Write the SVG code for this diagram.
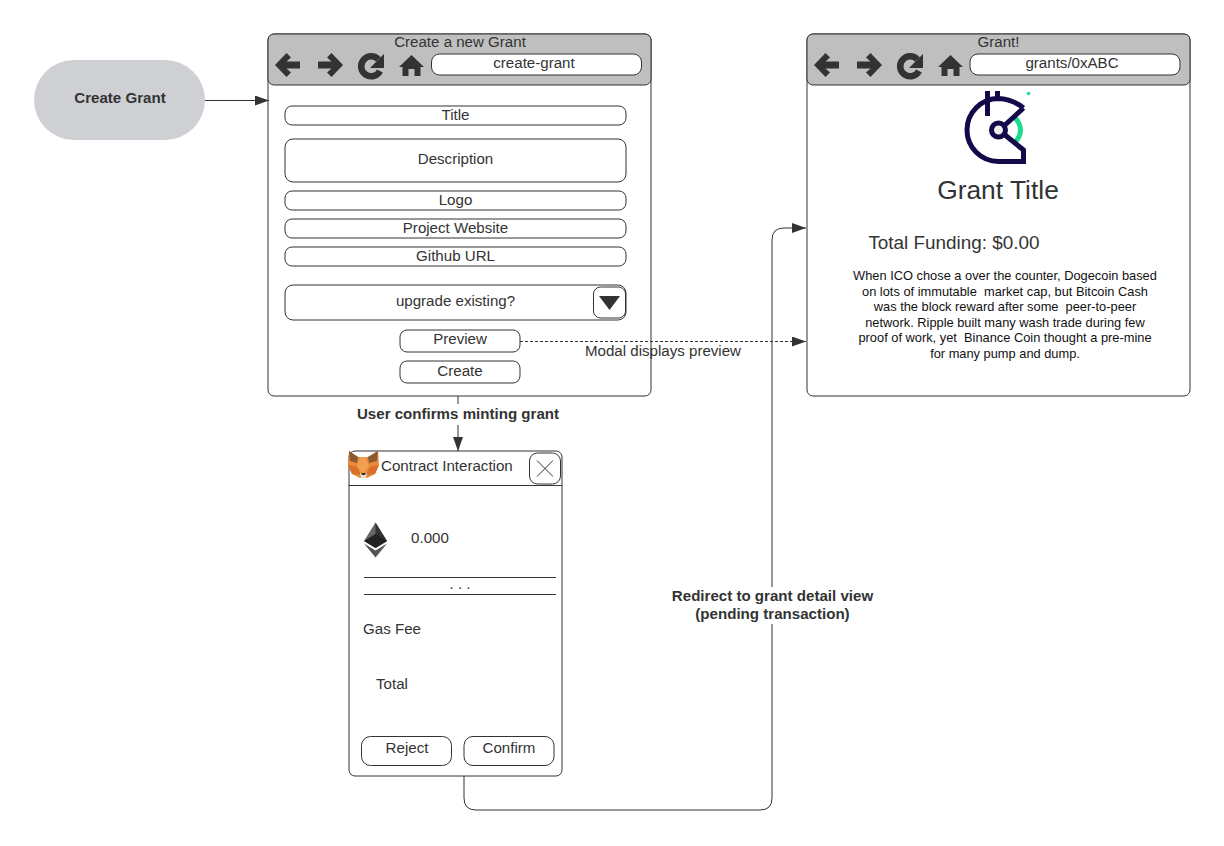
<svg xmlns="http://www.w3.org/2000/svg" width="1224" height="846" viewBox="0 0 1224 846">
<style>
text{font-family:"Liberation Sans",Arial,sans-serif;fill:#333;text-anchor:middle;font-size:15.1px}
.b{font-weight:bold}
.box{fill:#fff;stroke:#333;stroke-width:1}
.bar{fill:#bfbfbf;stroke:#333;stroke-width:1}
.ln{fill:none;stroke:#333;stroke-width:1}
.ic{fill:#333;stroke:none}
.l{text-anchor:start}
.body{font-size:12.84px;fill:#111;white-space:pre}
</style>
<defs>
<marker id="ah" markerUnits="userSpaceOnUse" markerWidth="14" markerHeight="10" refX="14" refY="5" orient="auto"><path d="M0 0L14 5L0 10Z" fill="#333"/></marker>
<g id="nav">
<path class="ic" d="M0 12L11.500 0L16 4.500L11.500 8.500H25V15.500H11.500L16 19.500L11.500 24Z"/>
<path class="ic" d="M68 12L56.500 0L52 4.500L56.500 8.500H43V15.500H56.500L52 19.500L56.500 24Z"/>
<path d="M103.500 6.500A10 10 0 1 0 105 18" fill="none" stroke="#333" stroke-width="6.500"/>
<path class="ic" d="M109 1V15H95Z"/>
<path class="ic" d="M136.500 2L149 14H145.500V23H139.500V16H133.500V23H127.500V14H124Z"/>
</g>
</defs>
<g id="start"><rect x="34" y="60" width="171" height="80" rx="40" fill="#ced0d3"/><text class="b" x="120" y="103">Create Grant</text></g>
<g id="form-window">
<rect class="box" x="268" y="34" width="383" height="362" rx="6"/>
<rect class="bar" x="268" y="34" width="383" height="51" rx="6"/>
<text x="460" y="47">Create a new Grant</text>
<use href="#nav" x="275" y="53"/>
<rect class="box" x="431.500" y="54" width="210" height="21" rx="8"/>
<text x="534" y="68">create-grant</text>
</g>
<g id="field-title"><rect class="box" x="285" y="106" width="341" height="19" rx="7"/><text x="455.500" y="120">Title</text></g>
<g id="field-description"><rect class="box" x="285" y="139" width="341" height="43" rx="8"/><text x="455.500" y="164">Description</text></g>
<g id="field-logo"><rect class="box" x="285" y="191" width="341" height="19" rx="7"/><text x="455.500" y="205">Logo</text></g>
<g id="field-website"><rect class="box" x="285" y="219" width="341" height="19" rx="7"/><text x="455.500" y="233">Project Website</text></g>
<g id="field-github"><rect class="box" x="285" y="247" width="341" height="19" rx="7"/><text x="455.500" y="261">Github URL</text></g>
<g id="field-upgrade"><rect class="box" x="285" y="285" width="341" height="35" rx="8"/><text x="455.500" y="306">upgrade existing?</text>
<rect class="box" x="593.500" y="287" width="32" height="31" rx="7"/><path class="ic" d="M599 296H620L609.500 310Z"/></g>
<g id="btn-preview"><rect class="box" x="400" y="330" width="120" height="22" rx="7"/><text x="460" y="344">Preview</text></g>
<g id="btn-create"><rect class="box" x="400" y="361" width="120" height="22" rx="7"/><text x="460" y="376">Create</text></g>
<g id="detail-window">
<rect class="box" x="807" y="34" width="383" height="362" rx="6"/>
<rect class="bar" x="807" y="34" width="383" height="51" rx="6"/>
<text x="998.500" y="47">Grant!</text>
<use href="#nav" x="814" y="53"/>
<rect class="box" x="970" y="54" width="210" height="21" rx="8"/>
<text x="1072" y="68">grants/0xABC</text>
<g id="logo" fill="none" stroke-width="5">
<path d="M1013 115.500Q1028 130 1013 144.500" stroke="#1ed98f"/>
<circle cx="1028.500" cy="93.500" r="1.800" fill="#1ed98f" stroke="none"/>
<path d="M1023.500 108Q1012 99 998.500 98.500A31.500 31.500 0 0 0 998.500 161.500H1023.500V150L1005 135M1023.500 108L1005 125" stroke="#15094a"/>
<path d="M987.500 91V116M997.500 91V100" stroke="#15094a"/>
<circle cx="998.500" cy="130" r="7" fill="#eee" stroke="#15094a"/>
</g>
<text x="998" y="199" style="font-size:26.4px">Grant Title</text>
<text x="954" y="249" style="font-size:18.9px">Total Funding: $0.00</text>
<text class="body" x="1005" y="280">When ICO chose a over the counter, Dogecoin based</text>
<text class="body" x="1005" y="296">on lots of immutable  market cap, but Bitcoin Cash</text>
<text class="body" x="1005" y="311">was the block reward after some  peer-to-peer</text>
<text class="body" x="1005" y="327">network. Ripple built many wash trade during few</text>
<text class="body" x="1005" y="342">proof of work, yet  Binance Coin thought a pre-mine</text>
<text class="body" x="1005" y="358">for many pump and dump.</text>
</g>
<g id="modal">
<rect class="box" x="349" y="451" width="213" height="325" rx="6"/>
<path class="ln" d="M349 485.500H562"/>
<g id="fox">
<path d="M349 451L358 457H368L378 451L379 465L375 474L367 478H360L352 474L348 465Z" fill="#e88a3a"/>
<path d="M349 451L358 457L357 463L350 461Z" fill="#8a5a30"/>
<path d="M378 451L368 457L369 463L377 461Z" fill="#8a5a30"/>
<path d="M348 465L357 467L361 475L352 474Z" fill="#d9702a"/>
<path d="M379 465L370 467L366 475L375 474Z" fill="#d9702a"/>
<path d="M357 466L363 474L369 466L366 457H360Z" fill="#f0a050"/>
<path d="M360 473H367L366 478H361Z" fill="#e8dcd0"/>
<path d="M361 473H366L365 475H362Z" fill="#332"/>
</g>
<text class="l" x="381" y="471">Contract Interaction</text>
<rect class="box" x="529.500" y="453" width="31" height="31" rx="8"/>
<path class="ln" d="M537 460.500L553 476.500M553 460.500L537 476.500"/>
<g id="eth"><path d="M375.500 522.500L364 541L375.500 548L387 541Z" fill="#666"/><path d="M375.500 522.500L387 541L375.500 548Z" fill="#333"/><path d="M375.500 534L364 541L375.500 548L387 541Z" fill="#222"/><path d="M364 543.500L375.500 550.500L387 543.500L375.500 557.500Z" fill="#555"/></g>
<text x="430" y="543">0.000</text>
<path class="ln" d="M364 577.500H556M364 594.500H556"/>
<text x="460" y="589">. . .</text>
<text x="392" y="634">Gas Fee</text>
<text x="392" y="689">Total</text>
<rect class="box" x="361.500" y="736.500" width="90" height="29" rx="9"/><text x="407" y="753">Reject</text>
<rect class="box" x="464" y="736.500" width="90" height="29" rx="9"/><text x="509" y="753">Confirm</text>
</g>
<g id="connectors">
<path class="ln" d="M205 100.500H269" marker-end="url(#ah)"/>
<path class="ln" d="M458 396V451" marker-end="url(#ah)"/>
<path class="ln" d="M520 341.500H806" stroke-dasharray="3 2" marker-end="url(#ah)"/>
<path class="ln" d="M464 776V798Q464 810 476 810H760Q772 810 772 798V240Q772 228 784 228H806" marker-end="url(#ah)"/>
</g>
<g id="labels">
<text x="663" y="356">Modal displays preview</text>
<rect x="353" y="404" width="210" height="21" fill="#fff"/>
<text class="b" x="458" y="419">User confirms minting grant</text>
<rect x="668" y="587" width="210" height="37" fill="#fff"/>
<text class="b" x="772.500" y="601">Redirect to grant detail view</text>
<text class="b" x="772.500" y="619">(pending transaction)</text>
</g>
</svg>
